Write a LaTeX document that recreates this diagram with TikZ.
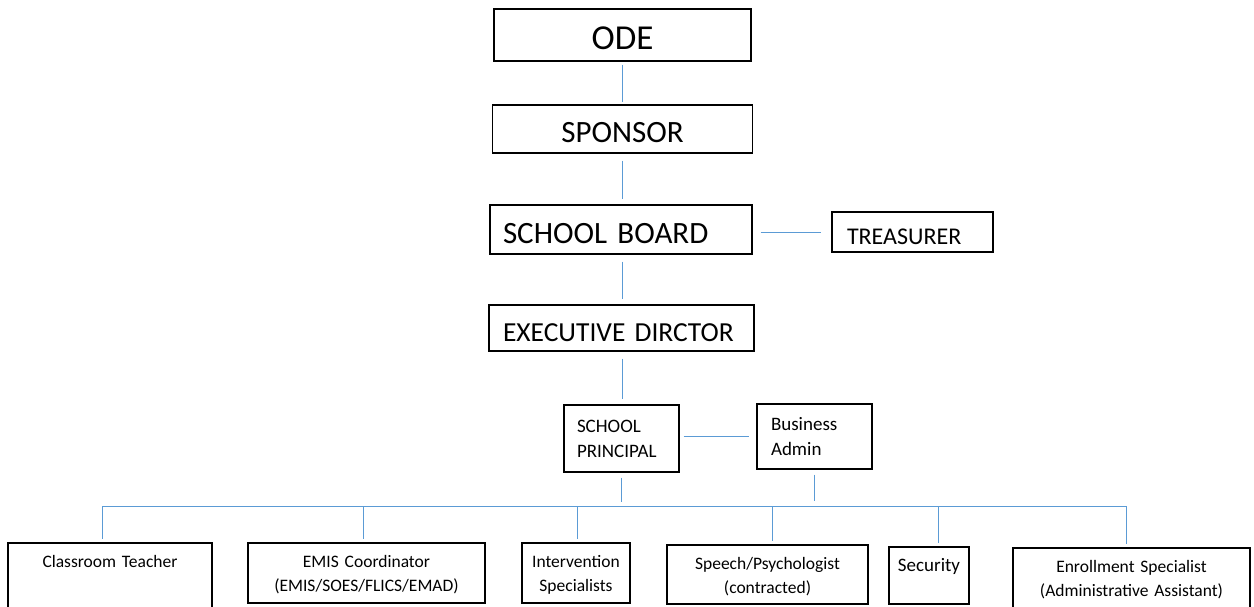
\documentclass[tikz,border=0pt]{standalone}
\usepackage{fontspec}
\setmainfont{Carlito}
\definecolor{linkblue}{RGB}{91,155,213}

\begin{document}
\begin{tikzpicture}[x=1pt,y=-1pt,
  box/.style={draw, line width=1.1pt, inner sep=0pt},
  leftbox/.style={box, align=left, inner xsep=#1},
  cell/.style args={#1x#2}{box, align=center, text width=#1, minimum height=#2,
    text height=24.5pt, text depth=#2-24.5pt, font=\fontsize{17.5}{24}\selectfont},
  link/.style={draw=linkblue, line width=1pt, shorten <=7pt, shorten >=5pt}]

  % Page frame
  \useasboundingbox (0,0) rectangle (1254,606);

  % Top of the chain
  \node[box, minimum width=257pt, minimum height=52pt, text height=29pt, text depth=0pt,
        font=\fontsize{35}{40}\selectfont] (ode) at (622.5,35) {ODE};
  \node[box, minimum width=260pt, minimum height=48pt, text height=26pt, text depth=0pt,
        font=\fontsize{31}{36}\selectfont] (sponsor) at (622.5,129) {SPONSOR};
  \node[leftbox=13pt, text width=236pt, minimum height=49pt, text height=28pt, text depth=0pt,
        font=\fontsize{31}{36}\selectfont] (board) at (621,229.5) {SCHOOL BOARD};
  \node[leftbox=15pt, text width=131pt, minimum height=40pt, text height=24.5pt, text depth=0pt,
        font=\fontsize{24}{28}\selectfont] (treasurer) at (912.5,232) {TREASURER};
  \node[leftbox=14pt, text width=237pt, minimum height=46pt, text height=27pt, text depth=0pt,
        font=\fontsize{27.5}{32}\selectfont] (exec) at (621.5,328) {EXECUTIVE DIRCTOR};

  % Principal level
  \node[leftbox=13pt, text width=89pt, minimum height=67pt,
        font=\fontsize{19}{25}\selectfont] (principal) at (621.5,438.5) {SCHOOL\\PRINCIPAL};
  \node[leftbox=14pt, text width=87pt, minimum height=65pt,
        font=\fontsize{19}{25}\selectfont] (business) at (814.5,436.5) {Business\\Admin};

  % Staff row
  \node[cell=204pt x 66pt] (teacher) at (110,576) {Classroom Teacher};
  \node[cell=237pt x 60pt] (emis) at (366.5,573) {EMIS Coordinator\\(EMIS/SOES/FLICS/EMAD)};
  \node[cell=108pt x 60pt] (interv) at (576,573) {Intervention\\Specialists};
  \node[cell=201pt x 59pt] (speech) at (767.5,574.5) {Speech/Psychologist\\(contracted)};
  \node[cell=80pt x 57pt, font=\fontsize{19}{24}\selectfont] (security) at (929,575.5) {Security};
  \node[cell=237pt x 60pt] (enroll) at (1131.5,578) {Enrollment Specialist\\(Administrative Assistant)};

  % Vertical chain
  \draw[link, shorten <=3pt, shorten >=2pt] (ode) -- (sponsor);
  \draw[link] (sponsor) -- (board.north -| sponsor);
  \draw[link] (board.south -| sponsor) -- (exec.north -| sponsor);
  \draw[link] (exec.south -| sponsor) -- (principal.north -| sponsor);

  % Side links
  \draw[link, shorten <=8pt, shorten >=10pt] (treasurer.west -| board.east) -- (treasurer.west);
  \draw[link, shorten <=4pt, shorten >=7pt] (business.west -| principal.east) -- (business.west);

  % Bus to the staff row
  \coordinate (busL) at (102,506);
  \coordinate (busR) at (1127,506);
  \draw[link, shorten <=0pt, shorten >=0pt] (busL) -- (busR);
  \draw[link, shorten <=5pt, shorten >=4pt] (principal.south) -- (principal.south |- busL);
  \draw[link, shorten <=5pt, shorten >=5pt] (business.south) -- (business.south |- busL);

  \foreach \n/\x in {teacher/102, emis/363, interv/577, speech/772, security/938, enroll/1126} {
    \coordinate (drop-\n) at (\x,506);
    \draw[link, shorten <=0pt, shorten >=3pt] (drop-\n) -- (drop-\n |- \n.north);
  }
\end{tikzpicture}
\end{document}
